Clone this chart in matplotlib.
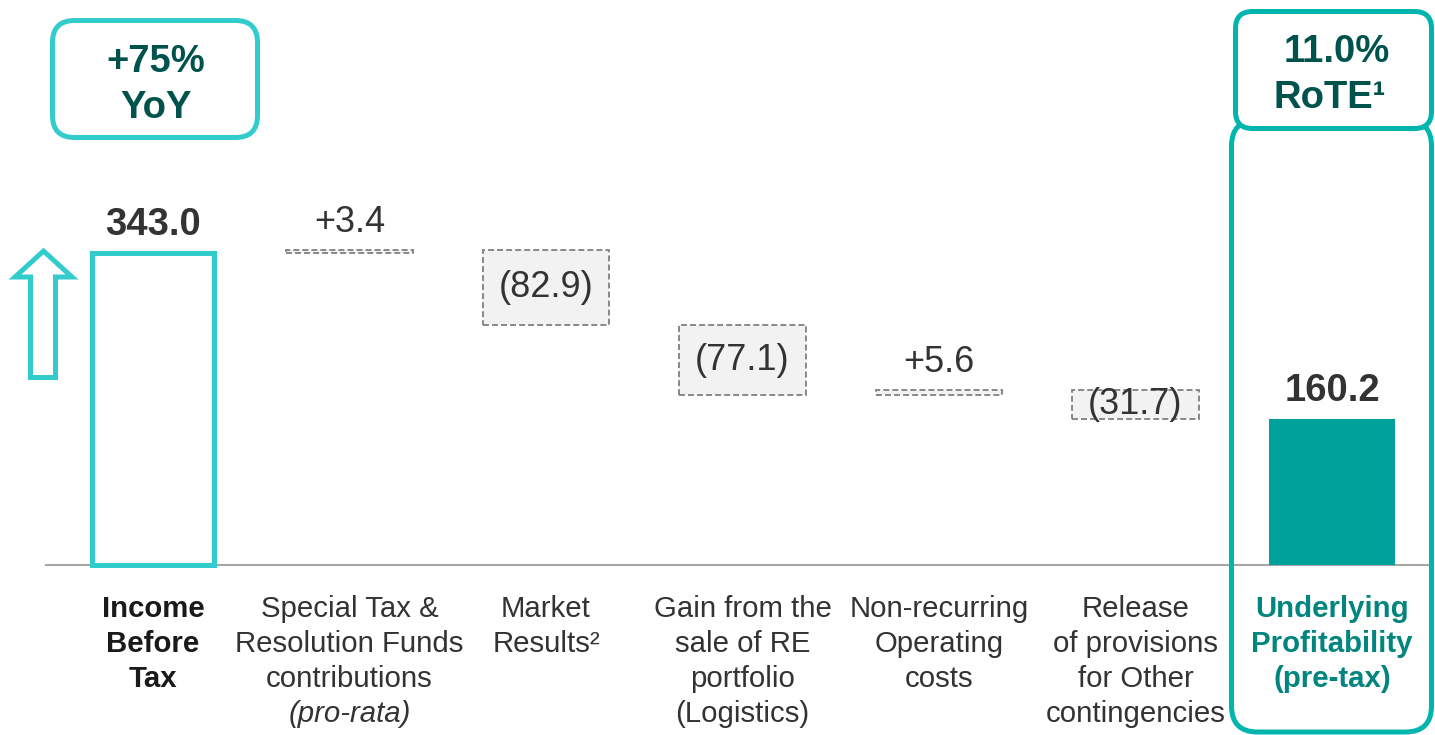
import matplotlib
matplotlib.use("Agg")
import matplotlib.pyplot as plt
from matplotlib.patches import FancyBboxPatch, Polygon
from matplotlib.transforms import Affine2D, blended_transform_factory

# ---------------- data ----------------
categories = [
    ["Income", "Before", "Tax"],
    ["Special Tax &", "Resolution Funds", "contributions", "(pro-rata)"],
    ["Market", "Results\u00b2"],
    ["Gain from the", "sale of RE", "portfolio", "(Logistics)"],
    ["Non-recurring", "Operating", "costs"],
    ["Release", "of provisions", "for Other", "contingencies"],
    ["Underlying", "Profitability", "(pre-tax)"],
]
values = [343.0, 3.4, -82.9, -77.1, 5.6, -31.7, 160.2]
kinds = ["start", "delta", "delta", "delta", "delta", "delta", "end"]
value_labels = ["343.0", "+3.4", "(82.9)", "(77.1)", "+5.6", "(31.7)", "160.2"]
yoy_text = ["+75%", "YoY"]
rote_text = ["11.0%", "RoTE\u00b9"]

# ---------------- style ----------------
W, H = 1435, 735
FONT = "Liberation Sans"
TEAL_LIGHT = "#33CCCC"
TEAL_FRAME = "#00B5AD"
TEAL_BAR = "#00A19A"
TEAL_TEXT = "#00857F"
DARK_TEAL = "#00524C"
GREY_TXT = "#333333"
DASH_EDGE = "#7F7F7F"
DASH_FILL = "#F2F2F2"

plt.rcParams["font.family"] = [FONT, "DejaVu Sans"]

fig = plt.figure(figsize=(W / 100, H / 100), dpi=100)
ax = fig.add_axes([0, 0, 1, 1])
ax.set_axis_off()

# pixel (from top-left) transform
T = Affine2D().scale(1 / W, -1 / H).translate(0, 1) + fig.transFigure

# data scale: first bar centre at x=153px, spacing 196.5px; baseline y=565px, 0.91px per unit
x0_px, dx_px = 153.0, 196.5
base_px, k = 565.0, 0.91
ax.set_xlim(-x0_px / dx_px, (W - x0_px) / dx_px)
ax.set_ylim(-(H - base_px) / k, base_px / k)

xs = list(range(len(values)))
BW = 0.645

# waterfall geometry
bottoms, heights = [], []
running = 0.0
for v, kd in zip(values, kinds):
    if kd in ("start", "end"):
        bottoms.append(0.0)
        heights.append(v)
        running = v
    else:
        bottoms.append(running if v > 0 else running + v)
        heights.append(abs(v))
        running += v

# baseline
ax.plot([-0.55, 6.5], [0, 0], color="#A6A6A6", lw=1.5, zorder=1,
        solid_capstyle="butt")

for i, (x, b, h, kd) in enumerate(zip(xs, bottoms, heights, kinds)):
    if kd == "start":
        ax.bar(x, h, bottom=b, width=BW - 0.02, facecolor="white",
               edgecolor=TEAL_LIGHT, lw=3.6, zorder=3, joinstyle="miter")
        ax.annotate(value_labels[i], (x, b + h), xytext=(0, 13),
                    textcoords="offset points", ha="center", va="baseline",
                    fontsize=27.5, fontweight="bold", color=GREY_TXT)
    elif kd == "end":
        ax.bar(x, h, bottom=b, width=BW, facecolor=TEAL_BAR,
               edgecolor="none", zorder=3)
        ax.annotate(value_labels[i], (x, b + h), xytext=(0, 13),
                    textcoords="offset points", ha="center", va="baseline",
                    fontsize=27.5, fontweight="bold", color=GREY_TXT)
    else:
        ax.bar(x, h, bottom=b, width=BW, facecolor=DASH_FILL,
               edgecolor=DASH_EDGE, lw=1.3, linestyle=(0, (3.3, 1.7)),
               zorder=3)
        if values[i] > 0:
            ax.annotate(value_labels[i], (x, b + h), xytext=(0, 13),
                        textcoords="offset points", ha="center",
                        va="baseline", fontsize=26, color=GREY_TXT)
        else:
            ax.text(x, b + h / 2, value_labels[i], ha="center", va="center",
                    fontsize=26, color=GREY_TXT, zorder=4)

# category labels
bt = blended_transform_factory(ax.transData, T)
for i, lines in enumerate(categories):
    for j, line in enumerate(lines):
        kw = dict(fontsize=21.2, color=GREY_TXT)
        if kinds[i] == "start":
            kw.update(fontweight="bold", color="#1A1A1A")
        elif kinds[i] == "end":
            kw.update(fontweight="bold", color=TEAL_TEXT)
        if line.startswith("(pro-rata"):
            kw.update(style="italic")
        ax.text(xs[i], 617 + 35 * j, line, transform=bt, ha="center",
                va="baseline", **kw)

# up arrow (decoration)
arrow_pts = [(30.5, 377.5), (30.5, 277), (15, 277), (43.5, 251),
             (72, 277), (55.5, 277), (55.5, 377.5)]
ax.add_patch(Polygon(arrow_pts, closed=True, transform=T, facecolor="white",
                     edgecolor=TEAL_LIGHT, lw=3.6, joinstyle="miter",
                     zorder=5))

# +75% YoY box
ax.add_patch(FancyBboxPatch((52.5, 20.5), 205, 117,
                            boxstyle="round,pad=0,rounding_size=22",
                            transform=T, facecolor="white",
                            edgecolor=TEAL_LIGHT, lw=3.6, zorder=5))
ax.text(156, 72, yoy_text[0], transform=T, ha="center", va="baseline",
        fontsize=27.5, fontweight="bold", color=DARK_TEAL, zorder=6)
ax.text(156, 118, yoy_text[1], transform=T, ha="center", va="baseline",
        fontsize=27.5, fontweight="bold", color=DARK_TEAL, zorder=6)

# right frame
ax.add_patch(FancyBboxPatch((1231.5, 120), 200, 612,
                            boxstyle="round,pad=0,rounding_size=26",
                            transform=T, facecolor="none",
                            edgecolor=TEAL_FRAME, lw=3.6, zorder=2))
ax.add_patch(FancyBboxPatch((1235.5, 11.5), 196, 117,
                            boxstyle="round,pad=0,rounding_size=17",
                            transform=T, facecolor="white",
                            edgecolor=TEAL_FRAME, lw=3.6, zorder=5))
ax.text(1337, 62, rote_text[0], transform=T, ha="center", va="baseline",
        fontsize=27.5, fontweight="bold", color=DARK_TEAL, zorder=6)
ax.text(1330, 108, rote_text[1], transform=T, ha="center", va="baseline",
        fontsize=27.5, fontweight="bold", color=DARK_TEAL, zorder=6)

fig.savefig("out.png", dpi=100, facecolor="white")
